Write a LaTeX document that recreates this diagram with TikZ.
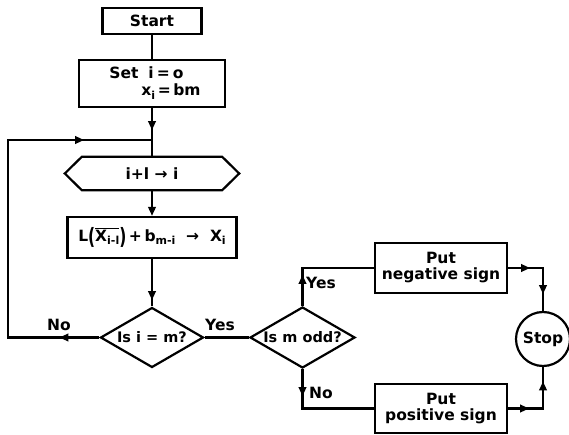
\documentclass[tikz,border=0pt]{standalone}
\usepackage{fontspec}
\setmainfont{DejaVu Sans}
\usetikzlibrary{arrows.meta,shapes.geometric,decorations.markings,calc}

% lowered, smaller index text
\newcommand\sbs[1]{\raisebox{-0.45ex}{\fontsize{11}{11}\selectfont #1}}
% tall parenthesis
\newcommand\tallpar[1]{\raisebox{-3.5pt}{\scalebox{1}[1.45]{#1}}}

\tikzset{
  lw/.style={line width=2.2pt},
  txt/.style={font=\fontsize{15.5}{19}\selectfont\bfseries},
  box/.style={draw, lw, rectangle, inner sep=0pt, align=center, txt},
  decision/.style={draw, lw, diamond, aspect=1.72, inner sep=0pt,
    font=\fontsize{14.5}{18}\selectfont\bfseries},
  terminal/.style={draw, lw, circle, inner sep=0pt, txt},
  lbl/.style={txt, inner sep=0pt},
  flow/.style={lw},
  head/.tip={Triangle[length=9pt,width=7.5pt]},
  tip/.style={postaction={decorate}, decoration={markings,
      mark=at position #1 with {\arrow{head}}}},
  tiptwo/.style 2 args={postaction={decorate}, decoration={markings,
      mark=at position #1 with {\arrow{head}},
      mark=at position #2 with {\arrow{head}}}},
}

\begin{document}
\begin{tikzpicture}[x=1pt, y=-1pt]
  \useasboundingbox (0,0) rectangle (569,435);

  % main column
  \node[box, minimum width=99, minimum height=26] (start) at (152,21) {Start};
  \node[box, minimum width=146, minimum height=47, align=left] (set) at (152,83.5)
    {\hspace*{6pt}Set\hspace{10pt}i\hspace{3pt}=\hspace{3pt}o\\[-2pt]%
     \hspace*{38pt}x\sbs{i}\,=\,bm};
  \node[txt, minimum width=140, minimum height=33, inner sep=0pt] (hex) at (152,173.5) {i+l → i};
  \draw[lw] (hex.north west) -- (hex.north east) -- ($(hex.east)+(17,0)$)
    -- (hex.south east) -- (hex.south west) -- ($(hex.west)+(-17,0)$) -- cycle;
  \node[box, minimum width=169, minimum height=41] (calc) at (152,237.5)
    {L\tallpar{(}$\overline{\hbox{X\sbs{i-l}}}$\tallpar{)}\,+\,b\sbs{m-i}\ \ →\ \ X\sbs{i}};
  \node[decision, minimum width=103, minimum height=60] (d1) at (152,337.5) {Is i = m?};

  % right part
  \node[decision, minimum width=105, minimum height=61] (d2) at (302.5,337.5) {Is m odd?};
  \node[box, minimum width=132, minimum height=50] (neg) at (441,268) {Put\\[-3pt]negative sign};
  \node[box, minimum width=132, minimum height=49] (pos) at (441,408.5) {Put\\[-3pt]positive sign};
  \node[terminal, minimum size=54] (stop) at (543,339) {Stop};

  % loop-back junction and left rail
  \coordinate (J) at (152,140);
  \coordinate (rail) at (8,0);

  % connectors
  \draw[flow] (start) -- (set);
  \draw[flow, tip=22pt] (set.south) -- (hex.north);
  \draw[flow, -head] (hex.south) -- (calc.north);
  \draw[flow, tip=41pt] (calc.south) -- (d1.north);
  \draw[flow, tiptwo={40pt}{365pt}] (d1.west) -- (d1.west -| rail) |- (J);
  \draw[flow] (d1.east) -- (d2.west);
  \draw[flow, tip=31pt] (d2.north) |- (neg.west);
  \draw[flow, tip=27pt] (d2.south) |- (pos.west);
  \draw[flow, tiptwo={22pt}{61pt}] (neg.east) -| (stop.north);
  \draw[flow, tiptwo={21pt}{62pt}] (pos.east) -| (stop.south);

  % branch labels
  \node[lbl] (no1) at (59,325) {No};
  \node[lbl] (yes1) at (220,325) {Yes};
  \node[lbl] (yes2) at (321,283) {Yes};
  \node[lbl] (no2) at (321,393) {No};
\end{tikzpicture}
\end{document}
